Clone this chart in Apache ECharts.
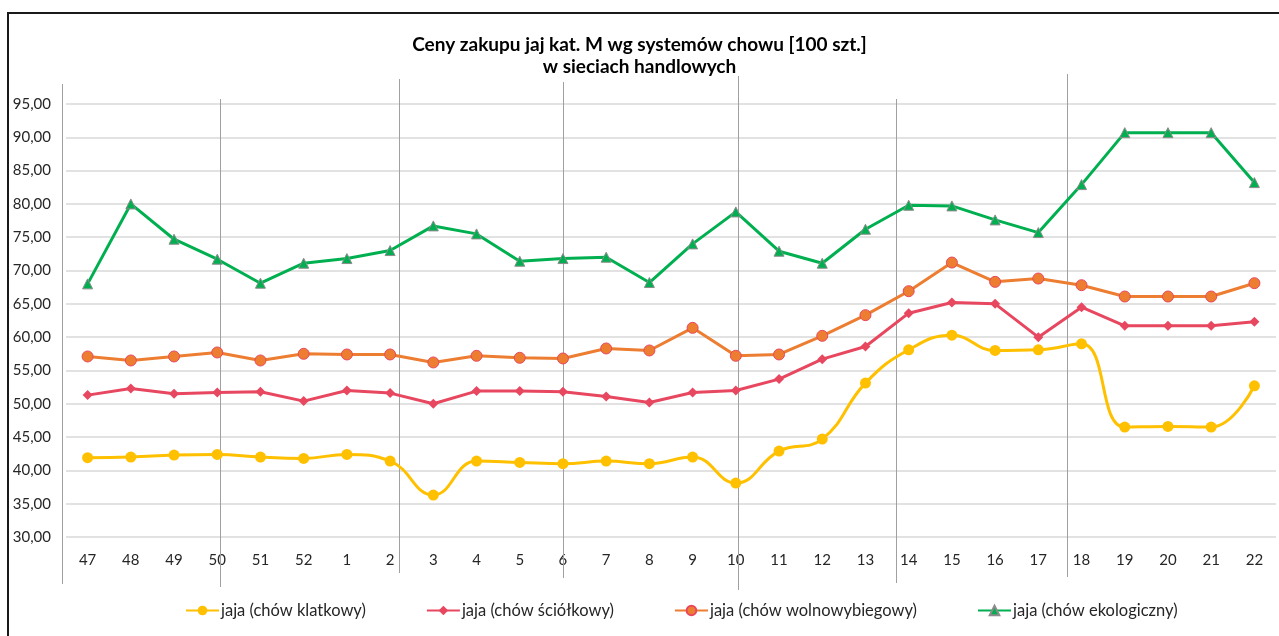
<!DOCTYPE html>
<html><head><meta charset="utf-8">
<script src="https://cdn.jsdelivr.net/npm/echarts@6/dist/echarts.min.js"></script>
<style>html,body{margin:0;padding:0;background:#fff}#c{width:1279px;height:636px}</style>
</head><body><div id="c"></div>
<script>
const categories = ['47','48','49','50','51','52','1','2','3','4','5','6','7','8','9','10','11','12','13','14','15','16','17','18','19','20','21','22'];
const klatkowy = [41.9,42.0,42.3,42.4,42.0,41.8,42.4,41.4,36.3,41.4,41.2,41.0,41.4,41.0,42.0,38.1,42.9,44.7,53.1,58.1,60.3,58.0,58.1,59.0,46.5,46.6,46.5,52.7];
const sciolkowy = [51.3,52.3,51.5,51.7,51.8,50.4,52.0,51.6,50.0,51.9,51.9,51.8,51.1,50.2,51.7,52.0,53.7,56.7,58.6,63.6,65.2,65.0,60.0,64.5,61.7,61.7,61.7,62.3];
const wolnowybiegowy = [57.1,56.5,57.1,57.7,56.5,57.5,57.4,57.4,56.2,57.2,56.9,56.8,58.3,58.0,61.4,57.2,57.4,60.2,63.3,66.9,71.2,68.3,68.8,67.8,66.1,66.1,66.1,68.1];
const ekologiczny = [68.0,80.0,74.7,71.7,68.1,71.1,71.8,73.0,76.7,75.5,71.4,71.8,72.0,68.2,74.0,78.8,72.9,71.1,76.2,79.8,79.7,77.6,75.7,82.9,90.7,90.7,90.7,83.2];
const seriesNames = ['jaja (chów klatkowy)','jaja (chów ściółkowy)','jaja (chów wolnowybiegowy)','jaja (chów ekologiczny)'];
const titleText = 'Ceny zakupu jaj kat. M wg systemów chowu [100 szt.]\nw sieciach handlowych';

const FONT = 'Lato';
const chart = echarts.init(document.getElementById('c'));
const option = {
  backgroundColor:'#fff',
  animation:false,
  textStyle:{fontFamily:FONT},
  title:{text:titleText,left:'center',top:29,textStyle:{fontFamily:FONT,fontWeight:'bold',fontSize:19,color:'#000',lineHeight:22}},
  legend:{bottom:12,left:180,itemWidth:33,itemHeight:12,itemGap:60,
    textStyle:{fontFamily:FONT,fontSize:16.5,color:'#262626',padding:[0,0,0,-3]},data:seriesNames},
  grid:{left:66,right:3,top:104,bottom:99,containLabel:false},
  xAxis:{type:'category',data:categories,boundaryGap:true,
    axisLine:{show:false},axisTick:{show:false},
    axisLabel:{color:'#262626',fontSize:15,margin:16,fontFamily:FONT}},
  yAxis:{type:'value',min:30,max:95,interval:5,
    axisLine:{show:false},axisTick:{show:false},
    axisLabel:{color:'#262626',fontSize:15,margin:15,fontFamily:FONT,formatter:v=>v.toFixed(2).replace('.',',')},
    splitLine:{lineStyle:{color:'#d9d9d9',width:1.5}}},
  series:[
    {name:seriesNames[0],type:'line',data:klatkowy,smooth:0.45,symbol:'circle',symbolSize:11,
     itemStyle:{color:'#FFC000'},lineStyle:{color:'#FFC000',width:3}},
    {name:seriesNames[1],type:'line',data:sciolkowy,symbol:'diamond',symbolSize:10,
     itemStyle:{color:'#E84760'},lineStyle:{color:'#E84760',width:3}},
    {name:seriesNames[2],type:'line',data:wolnowybiegowy,symbol:'circle',symbolSize:11,
     itemStyle:{color:'#ED7D31',borderColor:'#E84760',borderWidth:1},lineStyle:{color:'#ED7D31',width:3}},
    {name:seriesNames[3],type:'line',data:ekologiczny,symbol:'triangle',symbolSize:10,
     itemStyle:{color:'#00B050',borderColor:'#8c8c8c',borderWidth:1},lineStyle:{color:'#00B050',width:3}}
  ]
};
chart.setOption(option);

// decorative vertical separator lines (category-index position, top px, bottom px)
const separators = [[-0.6,84,584],[3.07,99,587],[7.2,79,573],[11.0,82,578],[15.05,76,590],[18.7,99,583],[22.66,74,577]];
const x0 = chart.convertToPixel({xAxisIndex:0},0);
const x1 = chart.convertToPixel({xAxisIndex:0},1);
const step = x1-x0;
const g = separators.map(s=>({type:'line',silent:true,z:1,
  shape:{x1:Math.round(x0+step*s[0])+0.5,y1:s[1],x2:Math.round(x0+step*s[0])+0.5,y2:s[2]},
  style:{stroke:'#a0a0a0',lineWidth:1}}));
g.push({type:'rect',silent:true,z:100,shape:{x:8,y:13,width:1300,height:700},style:{fill:'none',stroke:'#1a1a1a',lineWidth:2}});
chart.setOption({graphic:g});
</script></body></html>
